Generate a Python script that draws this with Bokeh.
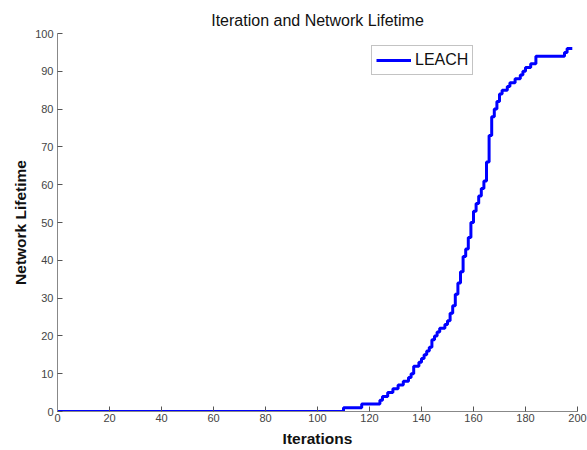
from bokeh.plotting import figure
from bokeh.models import Range1d, FixedTicker, Legend, LegendItem
from bokeh.embed import file_html
from bokeh.resources import INLINE

# Data (iteration, network lifetime) breakpoints
iterations = [0, 110, 117, 124, 125, 127, 129, 131, 133, 135, 136, 137, 139, 140, 141,
              142, 143, 144, 145, 146, 147, 149, 150, 151, 152, 153, 154, 155, 156, 157,
              158, 159, 160, 161, 162, 163, 164, 165, 166, 167, 168, 169, 170, 171, 173,
              174, 176, 178, 179, 180, 182, 184, 195, 196, 198]
lifetime = [0, 1, 2, 3, 4, 5, 6, 7, 8, 9, 10, 12, 13, 14, 15,
            16, 17, 19, 20, 21, 22, 23, 24, 26, 28, 31, 34, 37, 41, 43,
            46, 50, 53, 55, 57, 59, 61, 66, 73, 78, 80, 82, 84, 85, 86,
            87, 88, 89, 90, 91, 92, 94, 95, 96, 96]

x_ticks = [0, 20, 40, 60, 80, 100, 120, 140, 160, 180, 200]
y_ticks = [0, 10, 20, 30, 40, 50, 60, 70, 80, 90, 100]

FONT = "Liberation Sans"

p = figure(frame_width=520, frame_height=378, output_backend="svg", toolbar_location=None,
           x_range=Range1d(0, 200), y_range=Range1d(0, 100),
           min_border_left=57, min_border_right=10, min_border_top=33, min_border_bottom=39)

p.title.text = "Iteration and Network Lifetime"
p.title.align = "center"
p.title.text_font = FONT
p.title.text_font_size = "16px"
p.title.text_font_style = "normal"
p.title.text_color = "#111111"
p.title.offset = -3
p.title.standoff = 10

p.outline_line_color = None
p.xgrid.visible = False
p.ygrid.visible = False
p.background_fill_color = "white"
p.border_fill_color = "white"

r = p.step(iterations, lifetime, mode="after", line_color="#0000FF", line_width=3)

for ax in (p.xaxis[0], p.yaxis[0]):
    ax.axis_line_color = "#888888"
    ax.major_tick_line_color = "#555555"
    ax.minor_tick_line_color = None
    ax.major_tick_in = 5
    ax.major_tick_out = 0
    ax.major_label_text_font = FONT
    ax.major_label_text_font_size = "11px"
    ax.major_label_text_color = "#444444"
    ax.axis_label_text_font = FONT
    ax.axis_label_text_font_size = "15.5px"
    ax.axis_label_text_font_style = "bold"
    ax.axis_label_text_color = "#111111"

p.xaxis[0].ticker = FixedTicker(ticks=x_ticks)
p.yaxis[0].ticker = FixedTicker(ticks=y_ticks)
p.xaxis[0].axis_label = "Iterations"
p.yaxis[0].axis_label = "Network Lifetime"
p.xaxis[0].major_label_standoff = 2
p.yaxis[0].major_label_standoff = 4
p.xaxis[0].axis_label_standoff = 5
p.yaxis[0].axis_label_standoff = 3

legend = Legend(items=[LegendItem(label="LEACH", renderers=[r])],
                location=(314, 336))
legend.label_text_font = FONT
legend.label_text_font_size = "16px"
legend.label_text_color = "#111111"
legend.border_line_color = "#888888"
legend.border_line_width = 1
legend.glyph_width = 35
legend.glyph_height = 20
legend.label_height = 20
legend.padding = 4
legend.margin = 0
legend.label_standoff = 4
legend.background_fill_alpha = 1
p.add_layout(legend)

open("out.html", "w").write(file_html(p, INLINE))
